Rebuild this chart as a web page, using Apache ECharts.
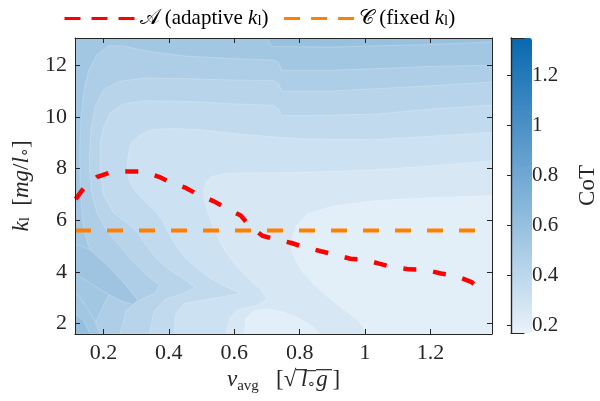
<!DOCTYPE html>
<html>
<head>
<meta charset="utf-8">
<script src="https://cdn.jsdelivr.net/npm/echarts@6/dist/echarts.min.js"></script>
<style>
  html, body { margin: 0; padding: 0; background: #fff; }
  #chart { width: 600px; height: 401px; }
</style>
</head>
<body>
<div id="chart"></div>
<script>
// axis extents
const vMin = 0.113, vMax = 1.388;
const kMin = 1.6, kMax = 13.05;
const cotMin = 0.168, cotMax = 1.348;

// CoT of each filled contour band (lightest band = basin around the minimum)
const bandCoT = [0.535, 0.59, 0.48, 0.425, 0.37, 0.315, 0.26, 0.2];

// contour lines [v_avg, k_l], each runs from the right edge round to the bottom edge
const topStrip = [[0.70, 13.05], [0.715, 12.72], [0.9, 12.7], [1.2, 12.8], [1.388, 12.9], [1.388, 13.05]];
const line56 = [[1.388, 12.0], [1.2, 11.95], [0.9, 11.8], [0.745, 11.8], [0.735, 12.1], [0.72, 12.2], [0.6, 12.25],
  [0.45, 12.35], [0.33, 12.55], [0.26, 12.75], [0.215, 12.75], [0.18, 12.4], [0.155, 11.8], [0.14, 11.0],
  [0.132, 10.0], [0.128, 9.0], [0.128, 7.9], [0.13, 7.0], [0.135, 6.2], [0.14, 5.6], [0.155, 5.0],
  [0.175, 4.4], [0.2, 3.8], [0.22, 3.2], [0.2, 2.7], [0.18, 2.2], [0.17, 1.6]];
const line45 = [[1.388, 11.35], [1.2, 11.2], [0.9, 11.0], [0.745, 11.0], [0.735, 11.3], [0.72, 11.4], [0.6, 11.42],
  [0.45, 11.48], [0.33, 11.5], [0.25, 11.38], [0.2, 11.05], [0.175, 10.4], [0.162, 9.5], [0.157, 8.5],
  [0.158, 7.9], [0.165, 7.0], [0.18, 6.3], [0.21, 5.6], [0.25, 5.0], [0.29, 4.4], [0.33, 3.9], [0.37, 3.5],
  [0.36, 3.2], [0.31, 2.9], [0.27, 2.5], [0.25, 1.6]];
const line34 = [[1.388, 10.45], [1.2, 10.3], [1.03, 10.1], [0.8, 10.05], [0.745, 10.05], [0.735, 10.3], [0.72, 10.45],
  [0.6, 10.5], [0.45, 10.6], [0.33, 10.62], [0.26, 10.5], [0.22, 10.15], [0.2, 9.6], [0.19, 9.0], [0.19, 7.9],
  [0.2, 7.0], [0.23, 6.3], [0.265, 5.95], [0.3, 5.6], [0.33, 5.05], [0.36, 4.54], [0.4, 4.1], [0.455, 3.65],
  [0.48, 3.4], [0.44, 3.15], [0.39, 2.95], [0.355, 2.5], [0.34, 1.6]];
const line23 = [[1.388, 9.4], [1.2, 9.25], [1.03, 9.12], [0.8, 9.15], [0.6, 9.35], [0.5, 9.5], [0.42, 9.55],
  [0.35, 9.52], [0.314, 9.32], [0.285, 9.0], [0.275, 8.5], [0.273, 7.9], [0.28, 7.5], [0.295, 7.15],
  [0.325, 6.75], [0.355, 6.4], [0.38, 6.0], [0.395, 5.6], [0.42, 5.05], [0.447, 4.58], [0.48, 4.2],
  [0.518, 3.81], [0.57, 3.45], [0.62, 3.17], [0.53, 2.97], [0.447, 2.78], [0.421, 2.4], [0.416, 1.6]];
const line12 = [[1.388, 8.3], [1.2, 8.1], [1.03, 7.95], [0.8, 7.85], [0.62, 7.83], [0.57, 7.8], [0.535, 7.7],
  [0.513, 7.5], [0.507, 7.14], [0.51, 6.7], [0.518, 6.37], [0.532, 5.85], [0.549, 5.35], [0.57, 4.85],
  [0.6, 4.32], [0.64, 3.8], [0.681, 3.3], [0.7, 2.95], [0.67, 2.7], [0.61, 2.55], [0.585, 2.2], [0.575, 1.6]];
const line01 = [[1.388, 6.95], [1.2, 6.88], [1.03, 6.76], [0.9, 6.55], [0.824, 6.25], [0.79, 5.8], [0.778, 5.35],
  [0.773, 4.84], [0.79, 4.4], [0.804, 4.07], [0.84, 3.55], [0.885, 3.04], [0.935, 2.55], [0.977, 2.14], [1.008, 1.6]];
const lobe01 = [[0.63, 1.6], [0.635, 2.2], [0.66, 2.5], [0.7, 2.58], [0.75, 2.45], [0.8, 2.2], [0.84, 1.9], [0.86, 1.6]];

// darker, noisy patches at low speed / low stiffness
const patchStrip = [[0.113, 5.05], [0.135, 5.0], [0.16, 4.85], [0.19, 4.5], [0.22, 4.15], [0.25, 3.75], [0.28, 3.3],
  [0.305, 2.9], [0.29, 2.75], [0.26, 2.85], [0.22, 3.1], [0.18, 3.4], [0.15, 3.65], [0.13, 3.8], [0.113, 3.9]];
const patchCorner = [[0.113, 3.2], [0.13, 3.0], [0.15, 2.6], [0.17, 2.2], [0.19, 1.6], [0.113, 1.6]];
const patchCornerDark = [[0.113, 2.4], [0.14, 2.1], [0.16, 1.6], [0.113, 1.6]];
const patchCoT = [0.56, 0.535, 0.6];

// controllers
const adaptiveV = [0.115, 0.141, 0.181, 0.222, 0.273, 0.319, 0.37, 0.406, 0.452, 0.487, 0.538, 0.574, 0.62,
  0.646, 0.686, 0.722, 0.775, 0.814, 0.865, 0.904, 0.955, 0.997, 1.043, 1.084, 1.135, 1.181, 1.232, 1.273,
  1.324, 1.356];
const adaptiveK = [6.82, 7.27, 7.68, 7.85, 7.89, 7.89, 7.68, 7.46, 7.25, 7.01, 6.73, 6.48, 6.18, 5.8, 5.4,
  5.28, 5.12, 4.96, 4.8, 4.68, 4.51, 4.48, 4.32, 4.19, 4.1, 4.09, 3.94, 3.87, 3.62, 3.3];
const fixedV = [0.113, 1.34];
const fixedK = [5.6, 5.6];

const closeBasin = (pts) => pts.concat([[vMax, kMin]]);
const shapes = [
  [[vMin, kMin], [vMax, kMin], [vMax, kMax], [vMin, kMax]],
  topStrip,
  closeBasin(line56), closeBasin(line45), closeBasin(line34),
  closeBasin(line23), closeBasin(line12), closeBasin(line01)
];
const shapeCoT = bandCoT.slice();
shapes.push(lobe01); shapeCoT.push(bandCoT[7]);
shapes.push(patchStrip, patchCorner, patchCornerDark);
shapeCoT.push(...patchCoT);
const contourData = shapes.map((s, i) => [shapeCoT[i], i]);

const ink = '#262626';
const serif = 'Liberation Serif';
const rich = {
  it: { fontFamily: serif, fontStyle: 'italic', fontSize: 23 },
  sub: { fontFamily: serif, fontSize: 15, verticalAlign: 'bottom', lineHeight: 14 },
  sc: { fontFamily: serif, fontSize: 21 }
};

// little canvas used as an overline above the radicand
const bar = document.createElement('canvas');
bar.width = 4; bar.height = 26;
const bctx = bar.getContext('2d');
bctx.fillStyle = ink; bctx.fillRect(0, 0, 4, 1.4);

const chart = echarts.init(document.getElementById('chart'));
chart.setOption({
  animation: false,
  textStyle: { fontFamily: serif },
  legend: {
    data: ['A', 'C'],
    left: 63, top: 8, padding: 0,
    itemWidth: 70, itemHeight: 14, itemGap: 14,
    lineStyle: { width: 3, type: [16, 11] },
    itemStyle: { color: 'rgba(0,0,0,0)', borderWidth: 0, opacity: 0 },
    textStyle: { fontFamily: serif, fontSize: 21, color: '#000', rich: Object.assign({}, rich, {
      it: { fontFamily: serif, fontStyle: 'italic', fontSize: 21 }
    }) },
    formatter: (name) => name === 'A'
      ? '{sc|𝒜} (adaptive {it|k}{sub|l})'
      : '{sc|𝒞} (fixed {it|k}{sub|l})'
  },
  grid: [
    { left: 75, top: 38, width: 417, height: 296 },
    { left: 511, top: 38, width: 21, height: 295 }
  ],
  visualMap: {
    type: 'continuous', min: cotMin, max: cotMax, dimension: 0, seriesIndex: 0,
    calculable: false, hoverLink: false, orient: 'vertical',
    left: 511, top: 38, itemWidth: 21, itemHeight: 295, padding: 0,
    inRange: { color: ['#e8f2fa', '#0868b0'] }
  },
  xAxis: [
    {
      gridIndex: 0, type: 'value', min: vMin, max: vMax, splitNumber: 6, position: 'bottom',
      axisLine: { lineStyle: { color: ink, width: 1 } },
      axisTick: { inside: true, length: 5, lineStyle: { color: ink } },
      axisLabel: { showMinLabel: false, showMaxLabel: false, margin: 8, color: ink, fontSize: 22, fontFamily: serif },
      splitLine: { show: false },
      name: '{it|v}{sub|avg}   [√{ov|\u2009}{ovi|l}{ovs|∘}{ovi|g}{ov|\u2009}]',
      nameLocation: 'middle', nameGap: 32,
      nameTextStyle: {
        color: ink, fontSize: 23, fontFamily: serif,
        rich: Object.assign({}, rich, {
          ov: { backgroundColor: { image: bar }, lineHeight: 26, fontSize: 23 },
          ovi: { fontFamily: serif, fontStyle: 'italic', fontSize: 23, backgroundColor: { image: bar }, lineHeight: 26 },
          ovs: { fontFamily: serif, fontSize: 14, backgroundColor: { image: bar }, lineHeight: 26, padding: [7, 0, 0, 0] }
        })
      },
      z: 5
    },
    {
      gridIndex: 0, type: 'value', min: vMin, max: vMax, splitNumber: 6, position: 'top',
      axisLine: { lineStyle: { color: ink, width: 1 } },
      axisTick: { inside: true, length: 5, lineStyle: { color: ink } },
      axisLabel: { show: false }, splitLine: { show: false }, z: 5
    },
    {
      gridIndex: 1, type: 'value', min: 0, max: 1, position: 'bottom',
      axisLine: { lineStyle: { color: ink, width: 1.2 } },
      axisTick: { show: false }, axisLabel: { show: false }, splitLine: { show: false }, z: 10
    },
    {
      gridIndex: 1, type: 'value', min: 0, max: 1, position: 'top',
      axisLine: { lineStyle: { color: ink, width: 1.2 } },
      axisTick: { show: false }, axisLabel: { show: false }, splitLine: { show: false }, z: 10
    }
  ],
  yAxis: [
    {
      gridIndex: 0, type: 'value', min: kMin, max: kMax, splitNumber: 5, position: 'left',
      axisLine: { lineStyle: { color: ink, width: 1 } },
      axisTick: { inside: true, length: 5, lineStyle: { color: ink } },
      axisLabel: { showMinLabel: false, showMaxLabel: false, margin: 8, color: ink, fontSize: 22, fontFamily: serif },
      splitLine: { show: false },
      name: '{it|k}{sub|l}  [{it|mg}/{it|l}{sub|∘}]',
      nameLocation: 'middle', nameGap: 42, nameRotate: 90,
      nameTextStyle: { color: ink, fontSize: 23, fontFamily: serif, rich: rich },
      z: 5
    },
    {
      gridIndex: 0, type: 'value', min: kMin, max: kMax, splitNumber: 5, position: 'right',
      axisLine: { lineStyle: { color: ink, width: 1 } },
      axisTick: { inside: true, length: 5, lineStyle: { color: ink } },
      axisLabel: { show: false }, splitLine: { show: false }, z: 5
    },
    {
      gridIndex: 1, type: 'value', min: cotMin, max: cotMax, splitNumber: 6, position: 'right',
      axisLine: { lineStyle: { color: ink, width: 1.2 } },
      axisTick: { inside: true, length: 4, lineStyle: { color: ink } },
      axisLabel: { showMinLabel: false, showMaxLabel: false, margin: 8, color: ink, fontSize: 21, fontFamily: serif },
      splitLine: { show: false },
      name: 'CoT', nameLocation: 'middle', nameGap: 52, nameRotate: 90,
      nameTextStyle: { color: ink, fontSize: 23, fontFamily: serif },
      z: 10
    },
    {
      gridIndex: 1, type: 'value', min: cotMin, max: cotMax, position: 'left',
      axisLine: { lineStyle: { color: ink, width: 1.2 } },
      axisTick: { show: false }, axisLabel: { show: false }, splitLine: { show: false }, z: 10
    }
  ],
  series: [
    {
      type: 'custom', xAxisIndex: 0, yAxisIndex: 0, clip: true, silent: true,
      data: contourData,
      renderItem: (params, api) => {
        const pts = shapes[api.value(1)].map((p) => api.coord(p));
        return {
          type: 'polygon',
          shape: { points: pts },
          style: { fill: api.visual('color'), stroke: 'rgba(255,255,255,0.35)', lineWidth: 0.6 }
        };
      }
    },
    {
      name: 'A', type: 'line', xAxisIndex: 0, yAxisIndex: 0, symbol: 'none', z: 3,
      data: adaptiveV.map((v, i) => [v, adaptiveK[i]]),
      lineStyle: { color: '#ff0000', width: 4.5, type: [13, 17] },
      itemStyle: { color: '#ff0000' }
    },
    {
      name: 'C', type: 'line', xAxisIndex: 0, yAxisIndex: 0, symbol: 'none', z: 3,
      data: fixedV.map((v, i) => [v, fixedK[i]]),
      lineStyle: { color: '#ff8000', width: 4, type: [16, 16] },
      itemStyle: { color: '#ff8000' }
    }
  ]
});
</script>
</body>
</html>
